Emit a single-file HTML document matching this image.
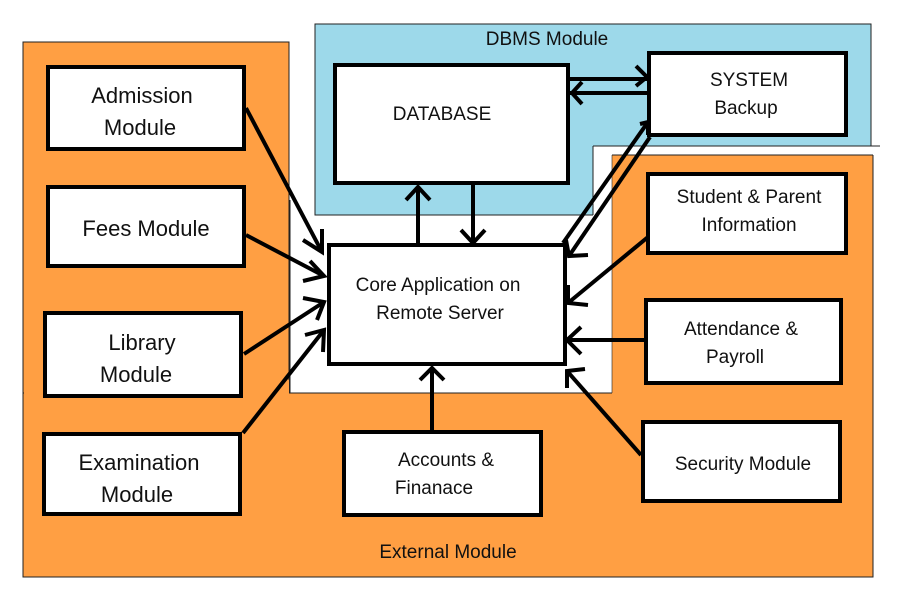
<!DOCTYPE html>
<html><head><meta charset="utf-8"><style>
html,body{margin:0;padding:0;background:#fff;}
svg{display:block;}
text{font-family:"Liberation Sans",sans-serif;font-size:19px;fill:#111;text-anchor:middle;}
</style></head><body>
<svg width="904" height="608" viewBox="0 0 904 608" xmlns="http://www.w3.org/2000/svg">
<rect x="23" y="42" width="266" height="535" fill="#FF9F43" stroke="#222" stroke-width="1"/>
<rect x="23" y="393" width="850" height="184" fill="#FF9F43" stroke="#222" stroke-width="1"/>
<rect x="24" y="380" width="265" height="30" fill="#FF9F43"/>
<line x1="290" y1="200" x2="290" y2="393" stroke="#222" stroke-width="1"/>
<line x1="290" y1="393" x2="612" y2="393" stroke="#222" stroke-width="1"/>
<rect x="315" y="24" width="556" height="191" fill="#9DD9EA" stroke="#222" stroke-width="1"/>
<rect x="593" y="146" width="287" height="80" fill="#fff"/>
<line x1="593" y1="146" x2="880" y2="146" stroke="#222" stroke-width="1"/>
<line x1="593" y1="146" x2="593" y2="215" stroke="#222" stroke-width="1"/>
<rect x="612" y="155" width="261" height="421" fill="#FF9F43"/>
<line x1="612" y1="155" x2="873" y2="155" stroke="#222" stroke-width="1"/>
<line x1="873" y1="155" x2="873" y2="577" stroke="#222" stroke-width="1"/>
<line x1="612" y1="155" x2="612" y2="393" stroke="#222" stroke-width="0.6"/>
<rect x="600" y="394" width="272" height="182" fill="#FF9F43"/>

<text x="547" y="45">DBMS Module</text>
<text x="448" y="558">External Module</text>

<g fill="#fff" stroke="#000" stroke-width="4">
<rect x="335" y="65" width="233" height="118"/>
<rect x="649" y="53" width="197" height="82"/>
<rect x="329" y="245" width="236" height="119"/>
<rect x="648" y="174" width="198" height="79"/>
<rect x="646" y="300" width="195" height="83"/>
<rect x="643" y="422" width="197" height="79"/>
<rect x="344" y="432" width="197" height="83"/>
<rect x="48" y="67" width="196" height="82"/>
<rect x="48" y="187" width="196" height="79"/>
<rect x="45" y="313" width="196" height="83"/>
<rect x="44" y="434" width="196" height="80"/>
</g>

<g stroke="#000" stroke-width="4" fill="none" stroke-linecap="butt">
<line x1="246" y1="108" x2="322" y2="252"/><polyline points="303,240 322,252 322,229"/>
<line x1="246" y1="235" x2="324" y2="276"/><polyline points="310,261 324,276 303,281"/>
<line x1="244" y1="354" x2="324" y2="302"/><polyline points="303,298 324,302 317,320"/>
<line x1="243" y1="433" x2="324" y2="330"/><polyline points="305,335 324,330 323,352"/>
<line x1="418" y1="244" x2="418" y2="187"/><polyline points="406,200 418,187 430,200"/>
<line x1="473" y1="185" x2="473" y2="243"/><polyline points="461,230 473,243 485,230"/>
<line x1="570" y1="79" x2="647" y2="79"/><polyline points="636,66 647,77 636,86"/>
<line x1="647" y1="93" x2="570" y2="93"/><polyline points="582,82 572,93 582,104"/>
<line x1="563" y1="243" x2="648" y2="122"/><polyline points="640,124 648,122 648,135"/>
<line x1="650" y1="137" x2="569" y2="256"/><polyline points="566,240 569,256 588,255"/>
<line x1="648" y1="237" x2="568" y2="303"/><polyline points="568,285 568,303 588,305"/>
<line x1="646" y1="340" x2="567" y2="340"/><polyline points="581,327 567,340 581,354"/>
<line x1="641" y1="455" x2="567" y2="371"/><polyline points="567,388 567,371 585,369"/>
<line x1="432" y1="431" x2="432" y2="368"/><polyline points="420,380 432,368 444,380"/>
</g>

<text x="442" y="120">DATABASE</text>
<text x="749" y="86">SYSTEM</text>
<text x="746" y="114">Backup</text>
<text x="438" y="291">Core Application on</text>
<text x="440" y="319">Remote Server</text>
<text x="749" y="203">Student &amp; Parent</text>
<text x="749" y="231">Information</text>
<text x="741" y="335">Attendance &amp;</text>
<text x="735" y="363">Payroll</text>
<text x="743" y="470">Security Module</text>
<text x="446" y="466">Accounts &amp;</text>
<text x="434" y="494">Finanace</text>
<text x="142" y="103" style="font-size:22px">Admission</text>
<text x="140" y="135" style="font-size:22px">Module</text>
<text x="146" y="236" style="font-size:22px">Fees Module</text>
<text x="142" y="350" style="font-size:22px">Library</text>
<text x="136" y="382" style="font-size:22px">Module</text>
<text x="139" y="470" style="font-size:22px">Examination</text>
<text x="137" y="502" style="font-size:22px">Module</text>
</svg>
</body></html>
